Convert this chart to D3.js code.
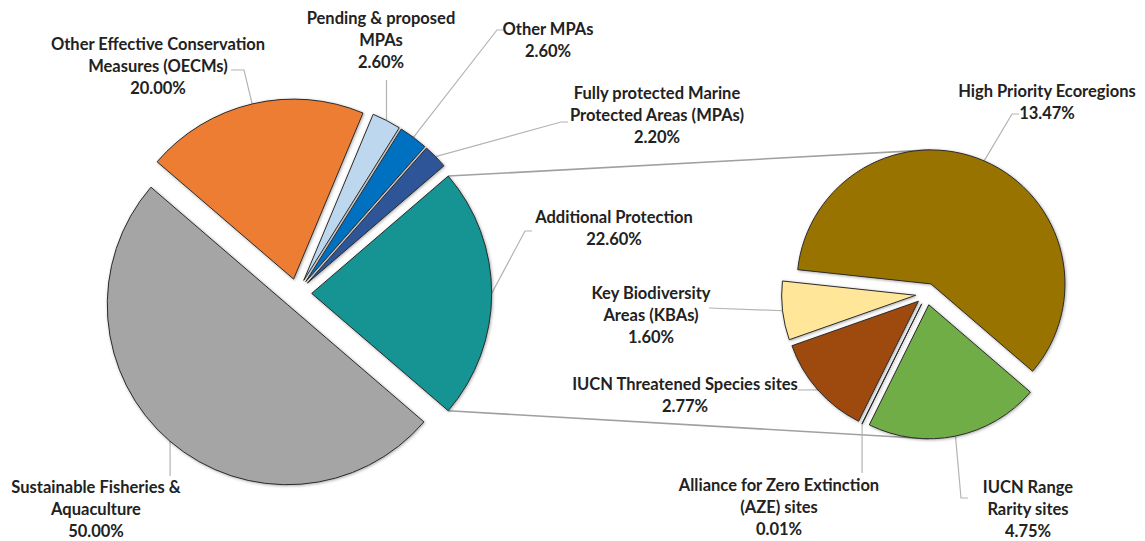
<!DOCTYPE html>
<html><head><meta charset="utf-8">
<script src="https://cdn.jsdelivr.net/npm/d3@7"></script>
<style>html,body{margin:0;padding:0;background:#fff;overflow:hidden}</style>
</head><body><svg id="chart" width="1145" height="541"></svg>
<script>
// ---------- DATA ----------
const mainCategories = [
  "Sustainable Fisheries & Aquaculture",
  "Other Effective Conservation Measures (OECMs)",
  "Pending & proposed MPAs",
  "Other MPAs",
  "Fully protected Marine Protected Areas (MPAs)",
  "Additional Protection"
];
const mainValues = [50.00, 20.00, 2.60, 2.60, 2.20, 22.60];
const mainColors = ["#a5a5a5", "#ed7d31", "#bdd7ee", "#0070c0", "#2f5597", "#139393"];

const subCategories = [
  "High Priority Ecoregions",
  "IUCN Range Rarity sites",
  "Alliance for Zero Extinction (AZE) sites",
  "IUCN Threatened Species sites",
  "Key Biodiversity Areas (KBAs)"
];
const subValues = [13.47, 4.75, 0.01, 2.77, 1.60];
const subColors = ["#997300", "#70ad47", "#843c0c", "#9e480e", "#ffe699"];

// label line breaks (text only; percentages come from values)
const mainLabelLines = [
  ["Sustainable Fisheries &", "Aquaculture"],
  ["Other Effective Conservation", "Measures (OECMs)"],
  ["Pending & proposed", "MPAs"],
  ["Other MPAs"],
  ["Fully protected Marine", "Protected Areas (MPAs)"],
  ["Additional Protection"]
];
const subLabelLines = [
  ["High Priority Ecoregions"],
  ["IUCN Range", "Rarity sites"],
  ["Alliance for Zero Extinction", "(AZE) sites"],
  ["IUCN Threatened Species sites"],
  ["Key Biodiversity", "Areas (KBAs)"]
];

// ---------- LAYOUT ----------
const deg = Math.PI / 180;
const svg = d3.select("#chart");
const W = 1145, H = 541;
const MAIN = {cx: 297, cy: 293.4, r: 180, explode: 14.7};
const SUB  = {cx: 926.6, cy: 294, r: 134, explode: 11, firstCenterDeg: 23.4};
const lineH = 22;

const mainLabelLayout = [
  {x: 96,   y: 487, leader: {vert: 476}},
  {x: 158,  y: 44,  leader: {pts: [[244, 70], [231, 70]]}},
  {x: 381,  y: 18,  leader: {vert: 80}},
  {x: 548,  y: 29,  leader: {pts: [[497, 30], [503, 30]]}},
  {x: 657,  y: 93,  leader: {pts: [[561, 122], [568, 122]]}},
  {x: 614,  y: 217, leader: {pts: [[525, 231], [532, 231]]}}
];
const subLabelLayout = [
  {x: 1047, y: 91,  leader: {pts: [[1012, 114], [1019, 114]]}},
  {x: 1028, y: 487, leader: {pts: [[961, 498], [968, 498]]}},
  {x: 779,  y: 485, leader: {vert: 473}},
  {x: 685,  y: 384, leader: {pts: [[798, 390]]}},
  {x: 651,  y: 293, leader: {pts: [[709, 308]]}}
];

// ---------- DEFS ----------
const defs = svg.append("defs");
const f = defs.append("filter").attr("id", "shadow")
  .attr("x", "-20%").attr("y", "-20%").attr("width", "140%").attr("height", "140%");
f.append("feDropShadow").attr("dx", 0.8).attr("dy", 0.8).attr("stdDeviation", 1.6)
  .attr("flood-color", "#000").attr("flood-opacity", 0.35);

svg.append("rect").attr("width", W).attr("height", H).attr("fill", "#fff");

// ---------- PIES ----------
const fmt = v => d3.format(".2f")(v) + "%";
const mainTotal = d3.sum(mainValues);
const addIdx = mainValues.length - 1;
// Rotate so the "Additional Protection" slice is centred pointing right (90°)
const mainStart = 90 * deg + (mainValues[addIdx] / 2) / mainTotal * 2 * Math.PI;
const mainPie = d3.pie().sort(null).value(d => d.v)
  .startAngle(mainStart).endAngle(mainStart + 2 * Math.PI);
const mainArcs = mainPie(mainValues.map((v, i) => ({v, i})));

const subTotal = d3.sum(subValues);
const subStart = SUB.firstCenterDeg * deg - (subValues[0] / 2) / subTotal * 2 * Math.PI;
const subPie = d3.pie().sort(null).value(d => d.v)
  .startAngle(subStart).endAngle(subStart + 2 * Math.PI);
const subArcs = subPie(subValues.map((v, i) => ({v, i})));

function offsetOf(a, P) {
  const m = (a.startAngle + a.endAngle) / 2;
  return [P.cx + P.explode * Math.sin(m), P.cy - P.explode * Math.cos(m)];
}
function pointAt(a, P, ang, rr) {
  const o = offsetOf(a, P);
  return [o[0] + rr * Math.sin(ang), o[1] - rr * Math.cos(ang)];
}

const gConn = svg.append("g");
const gLead = svg.append("g");
const gSlices = svg.append("g");
const gText = svg.append("g");

function drawPie(arcs, P, colors) {
  const arc = d3.arc().innerRadius(0).outerRadius(P.r);
  gSlices.append("g").selectAll("path").data(arcs).join("path")
    .attr("transform", d => `translate(${offsetOf(d, P)})`)
    .attr("d", arc)
    .attr("fill", d => colors[d.data.i])
    .attr("stroke", "#2b2b2b").attr("stroke-width", 1)
    .attr("stroke-linejoin", "miter")
    .attr("filter", "url(#shadow)");
}
drawPie(mainArcs, MAIN, mainColors);
drawPie(subArcs, SUB, subColors);

// ---------- CONNECTORS ----------
const addArc = mainArcs[addIdx];
const topA = pointAt(addArc, MAIN, addArc.startAngle, MAIN.r);
const botA = pointAt(addArc, MAIN, addArc.endAngle, MAIN.r);
const covers = (a, ang) => {
  const t = ((ang - a.startAngle) % (2 * Math.PI) + 2 * Math.PI) % (2 * Math.PI);
  return t <= (a.endAngle - a.startAngle);
};
const topSlice = subArcs.find(a => covers(a, 0));
const botSlice = subArcs.find(a => covers(a, Math.PI));
const topB = pointAt(topSlice, SUB, 0, SUB.r);
const botB = pointAt(botSlice, SUB, Math.PI, SUB.r);
gConn.selectAll("line").data([[topA, topB], [botA, botB]]).join("line")
  .attr("x1", d => d[0][0]).attr("y1", d => d[0][1])
  .attr("x2", d => d[1][0]).attr("y2", d => d[1][1])
  .attr("stroke", "#a0a0a0").attr("stroke-width", 1.6);

// ---------- LABELS ----------
function drawLabels(arcs, P, lines, layout, values) {
  arcs.forEach(a => {
    const i = a.data.i, L = layout[i];
    const mid = (a.startAngle + a.endAngle) / 2;
    const anchor = pointAt(a, P, mid, P.r);
    let pts = [anchor];
    if (L.leader.vert !== undefined) pts.push([anchor[0], L.leader.vert]);
    else pts = pts.concat(L.leader.pts);
    gLead.append("path")
      .attr("d", d3.line()(pts))
      .attr("fill", "none").attr("stroke", "#b4b4b4").attr("stroke-width", 1.2);
    const allLines = lines[i].concat([fmt(values[i])]);
    const t = gText.append("text")
      .attr("text-anchor", "middle")
      .attr("font-family", "Lato, 'Open Sans', sans-serif")
      .attr("font-weight", "bold")
      .attr("font-size", 16.5)
      .attr("fill", "#222");
    allLines.forEach((s, k) => {
      t.append("tspan").attr("x", L.x).attr("y", L.y + k * lineH)
        .attr("dy", "0.35em").text(s);
    });
  });
}
drawLabels(mainArcs, MAIN, mainLabelLines, mainLabelLayout, mainValues);
drawLabels(subArcs, SUB, subLabelLines, subLabelLayout, subValues);
</script>
</body></html>
